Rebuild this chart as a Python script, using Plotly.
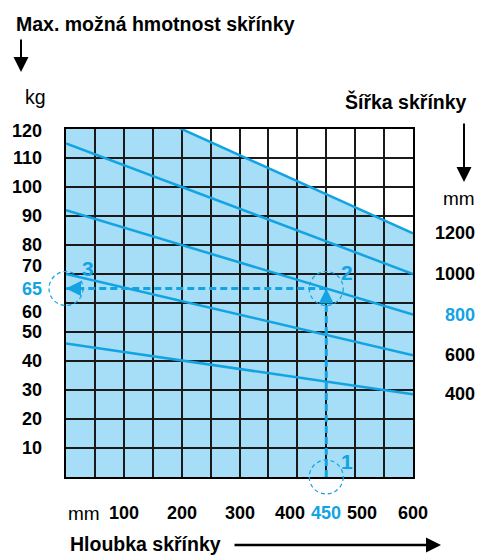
import plotly.graph_objects as go

BLUE = '#12a3e3'
FILL = '#a6ddf7'
FONT = 'Liberation Sans, Arial, sans-serif'

# hloubka skrinky (mm) a hmotnost (kg)
depth_ticks = [100, 200, 300, 400, 450, 500, 600]
load_ticks = [10, 20, 30, 40, 50, 60, 65, 70, 80, 90, 100, 110, 120]

# sirka skrinky, hmotnost pri hloubce 0 mm a 600 mm
widths = [400, 600, 800, 1000, 1200]
load_at_0 = [46, 70, 92, 115, 138]
load_at_600 = [28.5, 42, 56, 70, 84]

# priklad odectu
read_depth = 450
read_width = 800
read_load = 65

X_MAX = 600
Y_MAX = 120

W, H = 480, 555
L, R, T, B = 66, 67, 129, 78
PW, PH = W - L - R, H - T - B


def px(x):
    return (x - L) / PW


def py(y):
    return (H - B - y) / PH


def text(t, x, y, size=18, bold=True, color='black', xanchor='center', **kw):
    if bold:
        t = '<b>' + t + '</b>'
    d = dict(text=t, x=x, y=y, showarrow=False, xanchor=xanchor,
             yanchor='middle', font=dict(family=FONT, size=size, color=color))
    d.setdefault('xref', 'paper')
    d.setdefault('yref', 'paper')
    d.update(kw)
    return d


def arrow(x, y, ax, ay, color='black', width=2, size=1.5, **kw):
    d = dict(x=x, y=y, ax=ax, ay=ay, text='', showarrow=True, arrowhead=2,
             arrowwidth=width, arrowsize=size, arrowcolor=color,
             xref='paper', yref='paper')
    d.update(kw)
    return d


fig = go.Figure()

# plocha pod carou nejvetsi sirky
top = widths.index(max(widths))
slope = (load_at_600[top] - load_at_0[top]) / X_MAX
x_cap = (Y_MAX - load_at_0[top]) / slope
fill_pts = [(0, 0), (0, Y_MAX), (x_cap, Y_MAX), (X_MAX, load_at_600[top]), (X_MAX, 0)]
path = 'M ' + ' L '.join('%g,%g' % p for p in fill_pts) + ' Z'
shapes = [dict(type='path', path=path, xref='x', yref='y', layer='below',
               fillcolor=FILL, line=dict(width=0))]

for w, y0, y1 in zip(widths, load_at_0, load_at_600):
    fig.add_trace(go.Scatter(
        x=[0, X_MAX], y=[y0, y1], mode='lines', name=str(w),
        line=dict(color=BLUE, width=2.5), hoverinfo='skip'))

# odecet
dash = dict(color=BLUE, width=3, dash='7px,4px')
fig.add_trace(go.Scatter(x=[read_depth, read_depth], y=[0, read_load],
                         mode='lines', line=dash, hoverinfo='skip'))
fig.add_trace(go.Scatter(x=[read_depth, 0], y=[read_load, read_load],
                         mode='lines', line=dash, hoverinfo='skip'))

for cx, cy in [(read_depth, 0), (read_depth, read_load), (0, read_load)]:
    shapes.append(dict(
        type='circle', xref='paper', yref='paper',
        xsizemode='pixel', ysizemode='pixel',
        xanchor=cx / X_MAX, yanchor=cy / Y_MAX,
        x0=-17, x1=17, y0=-17, y1=17,
        line=dict(color=BLUE, width=1.2, dash='4px,3px')))

ann = []
ann.append(arrow(read_depth, read_load, 0, 15, color=BLUE, xref='x', yref='y'))
ann.append(arrow(0, read_load, 15, 0, color=BLUE, xref='x', yref='y'))
ann.append(text('1', read_depth, 0, size=21, color=BLUE, xref='x', yref='y',
                xshift=21, yshift=16))
ann.append(text('2', read_depth, read_load, size=21, color=BLUE, xref='x',
                yref='y', xshift=21, yshift=16))
ann.append(text('3', 0, read_load, size=21, color=BLUE, xref='x', yref='y',
                xshift=22, yshift=20))

# popisky osy y
y_shift = {120: -2, 70: 8, 60: -9}
for v in load_ticks:
    ann.append(text(str(v), 0, v, color=BLUE if v == read_load else 'black',
                    xanchor='right', xshift=-22, yref='y',
                    yshift=y_shift.get(v, 0)))

# popisky osy x
x_shift = {400: -7, 500: 7}
for v in depth_ticks:
    ann.append(text(str(v), v, 0, color=BLUE if v == read_depth else 'black',
                    xref='x', yshift=-36, xshift=x_shift.get(v, 0)))
ann.append(text('mm', 0, 0, bold=False, size=19, xanchor='left', xref='x',
                xshift=0, yshift=-36))

# popisky sirek
for w, y1 in zip(widths, load_at_600):
    ann.append(text(str(w), X_MAX, y1, color=BLUE if w == read_width else 'black',
                    xref='x', yref='y', xanchor='right', xshift=64))

ann.append(text('Max. možná hmotnost skřínky', px(14), py(24), size=19.5,
                xanchor='left'))
ann.append(arrow(px(21), py(72), 0, -34))
ann.append(text('kg', px(23), py(97), size=19.5, bold=False, xanchor='left'))

ann.append(text('Šířka skřínky', px(469), py(101), size=19.5, xanchor='right'))
ann.append(arrow(px(464), py(182), 0, -60))
ann.append(text('mm', px(477), py(198), size=19, bold=False, xanchor='right'))

ann.append(text('Hloubka skřínky', px(68), py(544), size=19.5, xanchor='left'))
ann.append(arrow(px(441), py(545), -208, 0, width=2.5, size=1.2))

axis = dict(showgrid=True, gridcolor='#1a1a1a', gridwidth=1.5,
            showticklabels=False, zeroline=False, ticks='',
            showline=True, mirror=True, linecolor='black', linewidth=2,
            fixedrange=True)

fig.update_layout(
    width=W, height=H,
    margin=dict(l=L, r=R, t=T, b=B),
    paper_bgcolor='white', plot_bgcolor='white',
    showlegend=False,
    xaxis=dict(range=[0, X_MAX], dtick=50, **axis),
    yaxis=dict(range=[0, Y_MAX], dtick=10, **axis),
    shapes=shapes,
    annotations=ann,
)

# stranka bez okraje, aby graf lezel presne v okne
fig.write_html('out.html', config={'displayModeBar': False},
               post_script="document.body.style.margin='0';")
